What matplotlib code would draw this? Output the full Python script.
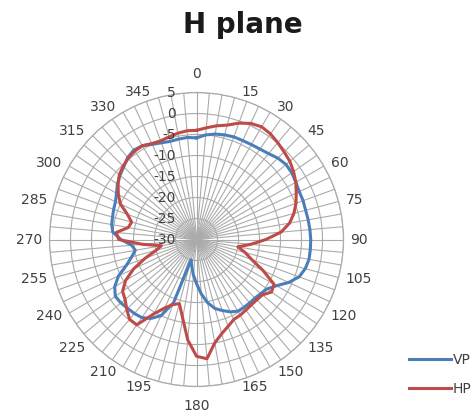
import numpy as np
import matplotlib
matplotlib.use("Agg")
import matplotlib.pyplot as plt
from matplotlib.transforms import offset_copy

angles = list(range(0, 360, 5))

vp = [-5.8, -5.0, -4.5, -4.2, -4.0, -4.0, -3.9, -3.7, -3.3, -2.6, -2.2, -2.3,
      -2.7, -3.0, -3.0, -3.1, -3.0, -2.9, -2.8, -2.8, -2.8, -3.2, -4.0, -5.8,
      -8.0, -9.5, -10.0, -10.3, -10.3, -10.3, -10.3, -11.0, -12.0, -13.0, -14.7, -17.0,
      -19.5, -21.5, -23.5, -25.0, -14.0, -10.0, -8.3, -7.3, -7.0, -6.8, -6.5, -6.4,
      -7.5, -9.5, -12.3, -14.0, -15.2, -14.5, -12.0, -10.0, -9.5, -9.3, -9.0, -8.7,
      -8.0, -7.0, -6.2, -5.5, -4.5, -4.0, -4.2, -5.0, -5.5, -5.8, -5.7, -5.6]

hp = [-4.0, -3.3, -2.5, -1.8, -0.5, 0.5, 1.0, 0.7, 0.1, -0.5, -1.0, -1.8,
      -2.7, -3.8, -4.8, -6.0, -7.5, -9.8, -13.5, -17.0, -20.0, -18.0, -16.0, -12.5,
      -8.7, -8.2, -9.5, -9.7, -9.7, -9.5, -9.2, -9.0, -8.0, -6.8, -5.0, -1.5,
      -2.2, -6.0, -11.0, -14.2, -13.5, -12.0, -9.5, -5.2, -5.2, -6.5, -7.8, -8.5,
      -10.5, -13.5, -17.0, -20.0, -21.5, -17.0, -11.5, -10.8, -13.5, -14.0, -12.5, -10.0,
      -8.5, -7.2, -6.0, -5.3, -4.7, -4.3, -4.2, -4.8, -5.0, -4.7, -4.3, -4.0]

r_ticks = [5, 0, -5, -10, -15, -20, -25, -30]
label_angles = list(range(0, 360, 15))

blue = "#4A7EBB"
red = "#BE4B48"
grid_col = "#ABABAB"
text_col = "#404040"

fig = plt.figure(figsize=(4.77, 4.17), dpi=100)
ax = fig.add_axes([0.1038, 0.0731, 0.6164, 0.7050], projection="polar")
ax.set_theta_zero_location("N")
ax.set_theta_direction(-1)

theta = np.deg2rad(angles + [angles[0]])
l1, = ax.plot(theta, vp + [vp[0]], color=blue, lw=2.2, label="VP")
l2, = ax.plot(theta, hp + [hp[0]], color=red, lw=2.2, label="HP")

ax.set_ylim(-30, 5)
ax.set_yticks(r_ticks)
ax.set_yticklabels([])
ax.set_xticks(np.deg2rad(angles))
ax.set_xticklabels([])
ax.grid(True, color=grid_col, lw=0.8)
ax.spines["polar"].set_color(grid_col)
ax.spines["polar"].set_linewidth(0.9)

# radial labels sit left of the 0 degree spoke, like Excel
trans = offset_copy(ax.transData, fig=fig, x=-15, y=0, units="points")
for r in r_ticks:
    ax.text(0, r, str(r), transform=trans, ha="right", va="center",
            fontsize=10, color=text_col)

# category labels: box placed beside the outer ring (Excel style)
for a in label_angles:
    s, c = np.sin(np.deg2rad(a)), np.cos(np.deg2rad(a))
    sx = 0 if abs(s) < 0.01 else np.sign(s)
    ha = {1: "left", -1: "right", 0: "center"}[int(sx)]
    dx = sx * 7
    dy = c * 6 if sx != 0 else np.sign(c) * 19
    t = offset_copy(ax.transData, fig=fig, x=dx, y=dy, units="dots")
    ax.text(np.deg2rad(a), 5, str(a), transform=t, ha=ha, va="center",
            fontsize=10, color=text_col, clip_on=False)

fig.text(243 / 477, 1 - 33 / 417, "H plane", ha="center", va="baseline",
         fontsize=20, fontweight="bold", color="#1a1a1a")

fig.legend(handles=[l1, l2], loc="upper left",
           bbox_to_anchor=(397 / 477, 1 - 340 / 417), frameon=False,
           fontsize=10, handlelength=3.0, handletextpad=0.1, labelspacing=1.1,
           labelcolor=text_col)

fig.savefig("out.png", dpi=100)
